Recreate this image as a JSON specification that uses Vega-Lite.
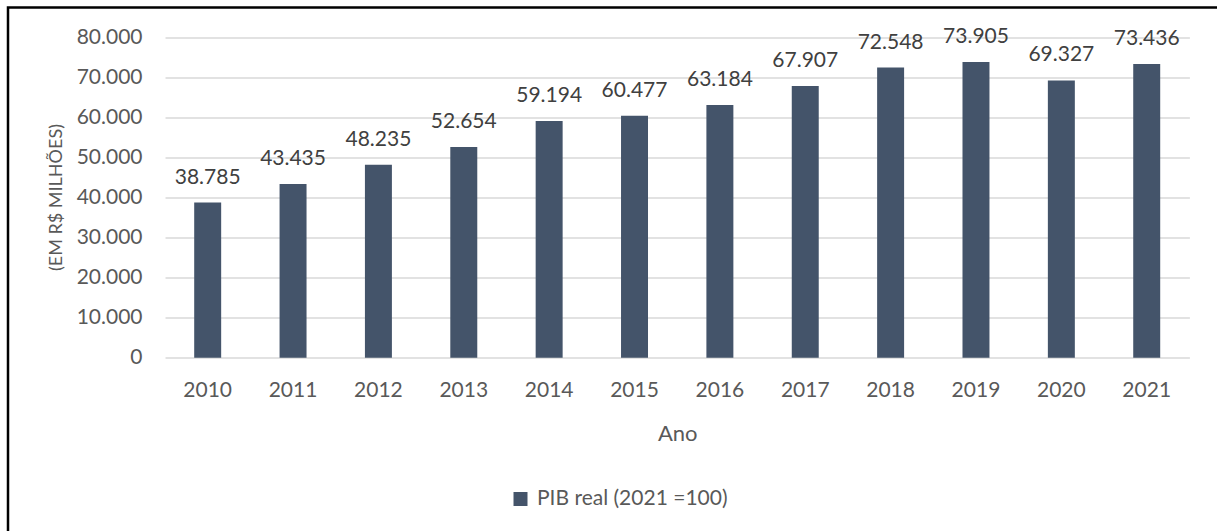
{
  "$schema": "https://vega.github.io/schema/vega-lite/v6.json",
  "autosize": {"type": "none"},
  "padding": {"left": 8, "top": 7.5, "right": -6, "bottom": -6},
  "width": 1215,
  "height": 529.5,
  "title": {
    "text": "Gráfico 11 – Evolução do PIB real – Fortaleza (CE) – 2010 a 2021 (R$ milhões)",
    "anchor": "start",
    "frame": "group",
    "font": "Liberation Serif",
    "fontSize": 25,
    "fontWeight": "bold",
    "color": "#000000",
    "baseline": "alphabetic",
    "offset": 4,
    "dx": 4
  },
  "data": {
    "values": [
      {"ano": "2010", "pib": 38785, "serie": "PIB real (2021 =100)"},
      {"ano": "2011", "pib": 43435, "serie": "PIB real (2021 =100)"},
      {"ano": "2012", "pib": 48235, "serie": "PIB real (2021 =100)"},
      {"ano": "2013", "pib": 52654, "serie": "PIB real (2021 =100)"},
      {"ano": "2014", "pib": 59194, "serie": "PIB real (2021 =100)"},
      {"ano": "2015", "pib": 60477, "serie": "PIB real (2021 =100)"},
      {"ano": "2016", "pib": 63184, "serie": "PIB real (2021 =100)"},
      {"ano": "2017", "pib": 67907, "serie": "PIB real (2021 =100)"},
      {"ano": "2018", "pib": 72548, "serie": "PIB real (2021 =100)"},
      {"ano": "2019", "pib": 73905, "serie": "PIB real (2021 =100)"},
      {"ano": "2020", "pib": 69327, "serie": "PIB real (2021 =100)"},
      {"ano": "2021", "pib": 73436, "serie": "PIB real (2021 =100)"}
    ]
  },
  "encoding": {
    "x": {
      "field": "ano",
      "type": "nominal",
      "sort": null,
      "scale": {"range": [157, 1181.4], "paddingInner": 0.684, "paddingOuter": 0.342},
      "axis": {
        "title": "Ano",
        "orient": "bottom",
        "offset": -179.3,
        "domain": false,
        "ticks": false,
        "tickSize": 0,
        "grid": false,
        "labelAngle": 0,
        "labelPadding": 21.5,
        "labelFont": "Lato",
        "labelFontSize": 21,
        "labelColor": "#595959",
        "titleFont": "Lato",
        "titleFontSize": 22,
        "titleFontWeight": "normal",
        "titleColor": "#595959",
        "titleBaseline": "alphabetic",
        "titleY": 82.3
      }
    },
    "y": {
      "field": "pib",
      "type": "quantitative",
      "scale": {"domain": [0, 80000], "range": [350.2, 30.2], "nice": false, "zero": true},
      "axis": {
        "title": "(EM R$ MILHÕES)",
        "orient": "left",
        "offset": -134,
        "values": [0, 10000, 20000, 30000, 40000, 50000, 60000, 70000, 80000],
        "format": ",d",
        "domain": false,
        "ticks": false,
        "tickSize": 0,
        "labelPadding": 0,
        "labelFont": "Lato",
        "labelFontSize": 21,
        "labelColor": "#595959",
        "grid": true,
        "gridColor": "#d9d9d9",
        "gridWidth": 1.4,
        "titleFont": "Lato",
        "titleFontSize": 18,
        "titleFontWeight": "normal",
        "titleColor": "#595959",
        "titleAngle": -90,
        "titleAlign": "center",
        "titleBaseline": "bottom",
        "titleX": -77,
        "titleY": 189.5
      }
    }
  },
  "layer": [
    {
      "mark": {"type": "bar"},
      "encoding": {
        "color": {
          "field": "serie",
          "type": "nominal",
          "scale": {"range": ["#44546A"]},
          "legend": {
            "title": null,
            "orient": "none",
            "legendX": 502,
            "legendY": 481,
            "padding": 0,
            "symbolType": "square",
            "symbolSize": 196,
            "symbolStrokeWidth": 0,
            "labelFont": "Lato",
            "labelFontSize": 21,
            "labelColor": "#595959",
            "labelOffset": 6,
            "labelLimit": 400
          }
        }
      }
    },
    {
      "mark": {
        "type": "text",
        "baseline": "alphabetic",
        "dy": -19,
        "font": "Lato",
        "fontSize": 21,
        "color": "#404040"
      },
      "encoding": {
        "text": {"field": "pib", "type": "quantitative", "format": ",d"}
      }
    }
  ],
  "config": {
    "locale": {
      "number": {"decimal": ",", "thousands": ".", "grouping": [3], "currency": ["R$", ""]}
    },
    "view": {"stroke": "#000000", "strokeWidth": 2.5},
    "background": "#ffffff"
  }
}
